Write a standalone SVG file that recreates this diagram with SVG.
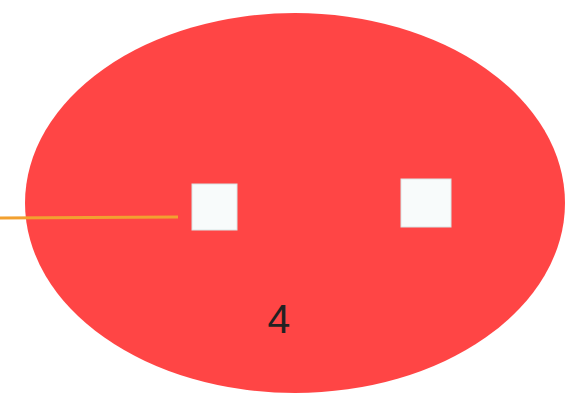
<svg xmlns="http://www.w3.org/2000/svg" width="574" height="397" viewBox="0 0 574 397">
<style>
.hole{fill:#f8fbfb;stroke:#d9e6e6;stroke-width:1}
.lbl{font-family:"Liberation Sans",Arial,sans-serif;font-size:41px;fill:#222}
</style>
<rect width="574" height="397" fill="#ffffff"/>
<g id="plate">
<ellipse cx="295" cy="203" rx="270" ry="190" fill="#ff4545"/>
</g>
<g id="hole1"><rect class="hole" x="192" y="184" width="45" height="46"/></g>
<g id="hole2"><rect class="hole" x="401" y="179" width="50" height="48"/></g>
<g id="connectors">
<line x1="0" y1="218" x2="178" y2="217" stroke="#f2a030" stroke-width="3"/>
</g>
<g id="label"><text class="lbl" x="279" y="333" text-anchor="middle">4</text></g>
</svg>
